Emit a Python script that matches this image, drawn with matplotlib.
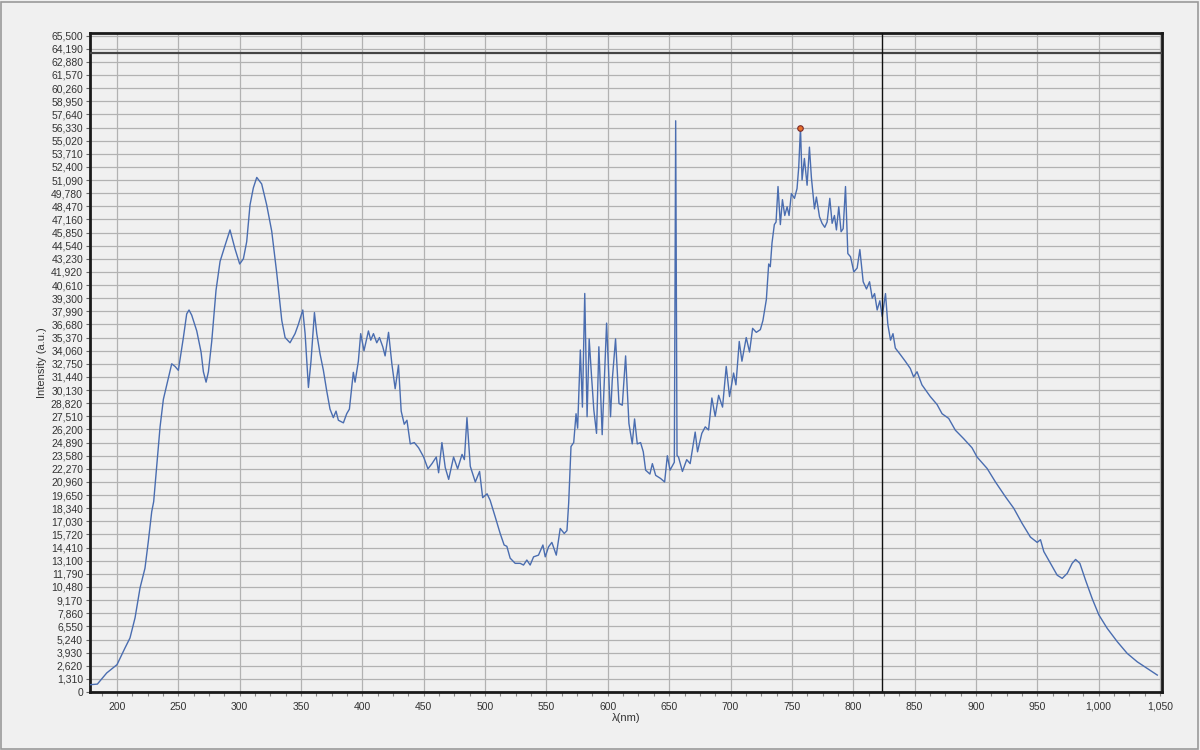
import numpy as np
import matplotlib
matplotlib.use("Agg")
import matplotlib.pyplot as plt
from matplotlib.ticker import FuncFormatter, MultipleLocator
from matplotlib.patches import Rectangle

plt.rcParams['font.family'] = ['Liberation Sans', 'DejaVu Sans']

# ---- data ----
wavelength_nm = [
    178, 184, 191.6, 200, 206.5, 210.6, 214.7, 218.8, 222.8, 225.5, 228.3,
    229.9, 235.1, 237.8, 241.8, 244.6, 247.3, 250, 254.1, 256.8, 258.7, 260.9,
    265, 268.5, 270.4, 272.6, 274.5, 277.2, 280.7, 284, 288, 292.1, 296.2, 300,
    303, 305.7, 308.4, 311.1, 313.9, 317.9, 322, 326.1, 330.2, 334.3, 337, 341,
    345.1, 347.8, 351.4, 353.3, 356, 358.1, 360.9, 362.8, 365.5, 368.2, 370.9,
    373.6, 376.3, 378.5, 380.4, 384.5, 387.2, 389.4, 392.6, 394, 396.7, 398.6,
    401.3, 404.9, 406.8, 409, 411.7, 413.9, 416.6, 418.5, 421.3, 424, 426.7,
    429.4, 431.6, 434.1, 436.3, 439, 442.3, 445.8, 449.9, 453.4, 456.7, 460.2,
    462.1, 464.8, 467.5, 470.3, 474.3, 477.6, 481.2, 483.1, 485.2, 487.9, 492,
    495.5, 498, 501.6,
    504.1, 508.2, 512.2, 515.5, 517.7, 520.4, 524.5, 528.6, 531.3, 534, 536.7,
    539.5, 543.5, 547.1, 549, 551.7, 554.4, 558, 561.2, 564.5, 566.7, 568.1,
    570, 572.2, 574.1, 575.4, 577.6, 579.3, 581.2, 583.1, 584.8, 586.7, 588.6,
    590.8, 592.7, 595.4, 599, 602.2, 603.6, 606.3, 609.1, 611.8, 614.5, 617.2,
    619.9, 621.8, 624, 626.7, 628.9, 630.8, 634.3, 636.3, 639, 643, 646.3,
    648.5, 650.7, 654.2, 655.3, 656.4, 657.6, 660.8, 664.3,
    667.1, 671.2, 673.1, 676.6, 679.4, 682.1, 684.8, 687.5, 690.3, 693.5,
    696.5, 699.2, 702.5, 704.4, 707.1, 709.3, 712.8, 715.5, 718, 721, 724.3,
    726.4, 729.2, 731.1, 732.4, 733.8, 735.7, 737.1, 738.7, 740.6, 742.3,
    744.2, 746.1, 747.7, 749.6, 752.1, 754.2, 755.6, 757, 758.3, 760.2, 762.4,
    764.3, 765.9, 768.4, 770, 772.5, 774.6, 776.8, 778.7, 780.9, 782.8, 784.7,
    786.3, 788.2, 790.1, 791.8, 793.7, 795.6, 797.8, 800.5, 803.2, 805.4,
    808.1, 810.8, 813.3, 815.5, 817.4, 819.5, 821.7, 823.6, 826.3, 828.2,
    830.4, 832.4, 834.3, 838.4, 842.4, 846.5, 849.2, 852, 856, 862.8, 868.3,
    872.4, 877.8, 883.2, 890, 896.8, 900.9, 909.1, 915.9, 924, 930.8, 937.6,
    944.4, 949.9, 952.6, 955.3, 960.8, 966.2, 970.3, 974.4, 978.4, 981.2,
    984.7, 989.3, 994.8, 1000.2, 1007, 1015.2, 1023.3, 1031.5, 1039.6, 1047.8,
]

intensity_au = [
    730, 790, 1900, 2730, 4390, 5400, 7400, 10400, 12350, 15000, 18000,
    19000, 26460, 29210, 31310, 32750, 32490, 32100, 35370, 37730, 38120, 37600,
    36030, 33930, 31960, 30920, 31960, 34980, 40090, 42970, 44540, 46110, 44210, 42710,
    43230, 44930, 48600, 50300, 51350, 50700, 48600, 45980, 41790, 37070, 35370, 34850,
    35760, 36680, 38120, 35760, 30390, 33010, 37860, 35760, 33730, 32100, 30060,
    28230, 27380, 28030, 27120, 26860, 27770, 28230, 31900, 30920, 33010, 35760,
    34060, 36030, 35110, 35760, 34850, 35370, 34450, 33540, 35890, 32750, 30260,
    32620, 28030, 26720, 27120, 24760, 24890, 24370, 23450, 22270, 22790, 23450,
    21880, 24890, 22400, 21220, 23450, 22270, 23710, 23190, 27380, 22530, 20960,
    22010, 19390, 19780,
    19130, 17490, 15850, 14670, 14540, 13360, 12840, 12840, 12670, 13170, 12670,
    13490, 13660, 14670, 13490, 14490, 14930, 13660, 16320, 15820, 16110, 18860,
    24500, 24890, 27770, 26330, 34130, 28430, 39770, 27470, 35240, 31570, 28140,
    25810, 34450, 25680, 36810, 27470, 31110, 35240, 28790, 28620, 33540, 26800,
    24760, 27250, 24760, 24890, 23970, 22140, 21750, 22790, 21620, 21310, 20960,
    23580, 22140, 22930, 57000, 23600, 23450, 22010, 23190,
    22790, 25940, 23970, 25810, 26460, 26150, 29340, 27510, 29610, 28430,
    32490, 29480, 31830, 30650, 34980, 33010, 35370, 33930, 36290, 35890, 36160,
    37070, 39170, 42710, 42440, 44800, 46640, 46900, 50440, 46640, 49130,
    47550, 48420, 47550, 49740, 49260, 50240, 52400, 56330, 51090, 53240, 50570,
    54370, 51350, 48210, 49390, 47420, 46770, 46370, 46900, 49260, 46770, 47550,
    46110, 48420, 45930, 46240, 50440, 43750, 43430, 41920, 42310, 44150,
    40940, 40220, 40940, 39300, 39760, 38120, 39040, 37470, 39760, 36680,
    35110, 35760, 34320, 33670, 33010, 32290, 31440, 31960, 30650, 29480, 28690,
    27770, 27300, 26130, 25280, 24370, 23450, 22310, 20960, 19490, 18340, 16830,
    15460, 14930, 15200, 14020, 12840, 11660, 11340, 11840, 12840, 13230,
    12840, 11170, 9300, 7690, 6350, 5020, 3850, 3010, 2360, 1690,
]

y_tick_values = list(range(0, 65501, 1310))
x_tick_values = list(range(200, 1051, 50))

peak_marker = (757, 56330)
cursor_x = 823.4
cursor_y = 63800

# ---- figure ----
BG = '#f0f0f0'
fig = plt.figure(figsize=(12, 7.5), dpi=100, facecolor=BG)
ax = fig.add_axes([0.075, 0.0773, 0.8933, 0.8787])
ax.set_facecolor(BG)

ax.set_xlim(178, 1051.6)
ax.set_ylim(0, 65760)

ax.set_yticks(y_tick_values)
ax.set_xticks(x_tick_values)
ax.xaxis.set_minor_locator(MultipleLocator(12.5))
fmt = FuncFormatter(lambda v, p: f"{int(round(v)):,}")
ax.yaxis.set_major_formatter(fmt)
ax.xaxis.set_major_formatter(fmt)

ax.grid(True, which='major', color='#b2b2b2', linewidth=0.9)
ax.set_axisbelow(True)

ax.tick_params(axis='both', which='major', labelsize=7.5, colors='#333333',
               length=3, width=0.8, pad=2)
ax.tick_params(axis='x', which='minor', length=3, width=0.8, color='#888888')
ax.tick_params(axis='x', which='major', pad=4, color='#888888')
ax.tick_params(axis='y', which='major', color='#666666')
for lab in ax.get_xticklabels() + ax.get_yticklabels():
    lab.set_color('#333333')

for s in ax.spines.values():
    s.set_color('#1a1a1a')
    s.set_linewidth(2.0)

ax.plot(wavelength_nm, intensity_au, color='#4a6db0', linewidth=1.0, zorder=3)

ax.axhline(cursor_y, color='#444444', linewidth=1.6, zorder=4)
ax.axvline(cursor_x, color='#111111', linewidth=1.0, zorder=4)

ax.plot([peak_marker[0]], [peak_marker[1]], 'o', markersize=4,
        markerfacecolor='#e8702a', markeredgecolor='#7a2a2a', markeredgewidth=0.8,
        zorder=5)

ax.set_xlabel('λ(nm)', fontsize=8, color='#333333', labelpad=1)
ax.set_ylabel('Intensity (a.u.)', fontsize=8, color='#333333', labelpad=3)

fig.patches.append(Rectangle((0.001, 0.002), 0.997, 0.996, transform=fig.transFigure,
                             fill=False, edgecolor='#9a9a9a', linewidth=1.2))

fig.savefig('out.png', dpi=100, facecolor=BG)
